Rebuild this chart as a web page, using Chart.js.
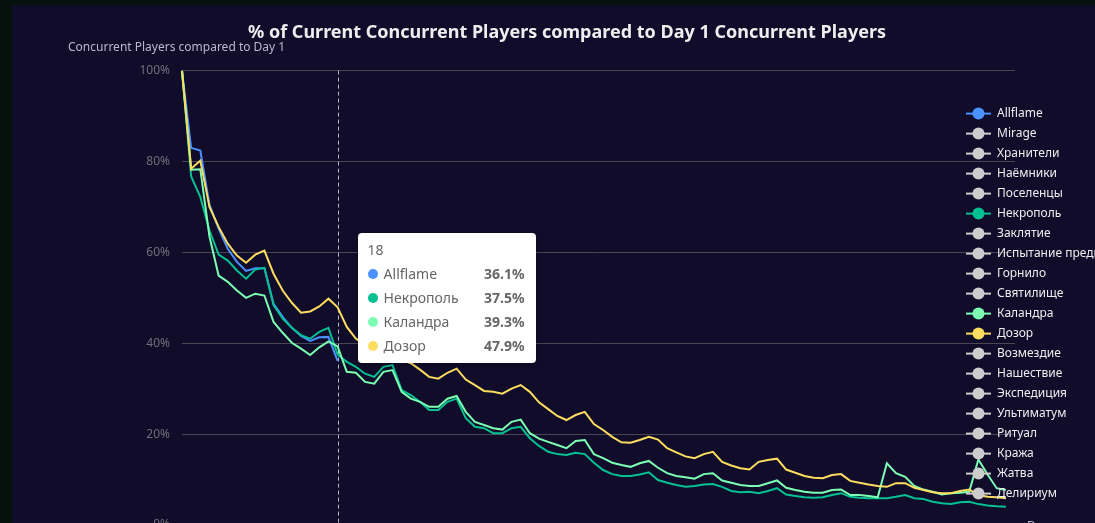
<!DOCTYPE html>
<html>
<head>
<meta charset="utf-8">
<script src="https://cdn.jsdelivr.net/npm/chart.js@4.4.1/dist/chart.umd.min.js"></script>
<style>
    html, body { margin: 0; width: 1095px; height: 523px; overflow: hidden; background: #06100c; }
    #panel { position: absolute; left: 12px; top: 5px; width: 1110px; height: 560px; background: #100c2a; }
    #tip {
        position: absolute; opacity: 0; pointer-events: none; box-sizing: border-box;
        width: 178px; background: #fff; border-radius: 4px; padding: 10px 11px 5px 10px;
        box-shadow: 1px 2px 10px rgba(0,0,0,0.2);
        font: 14px "Noto Sans", sans-serif; color: #666;
    }
    #tip .t { line-height: 14px; height: 14px; margin-bottom: 5px; }
    #tip .r { height: 24px; line-height: 24px; display: flex; align-items: center; }
    #tip .m { width: 10px; height: 10px; border-radius: 5px; margin-right: 6px; }
    #tip .n { flex: 1; }
    #tip .v { font-weight: bold; }
</style>
</head>
<body>
<div id="panel">
    <canvas id="chart" width="1110" height="560"></canvas>
    <div id="tip"></div>
</div>
<script>
// Days on the x axis
const days = [1, 2, 3, 4, 5, 6, 7, 8, 9, 10, 11, 12, 13, 14, 15, 16, 17, 18, 19, 20,
    21, 22, 23, 24, 25, 26, 27, 28, 29, 30, 31, 32, 33, 34, 35, 36, 37, 38, 39, 40,
    41, 42, 43, 44, 45, 46, 47, 48, 49, 50, 51, 52, 53, 54, 55, 56, 57, 58, 59, 60,
    61, 62, 63, 64, 65, 66, 67, 68, 69, 70, 71, 72, 73, 74, 75, 76, 77, 78, 79, 80,
    81, 82, 83, 84, 85, 86, 87, 88, 89, 90, 91, 92];

const yTicks = [0, 20, 40, 60, 80, 100];

// Series names in legend order
const leagues = ['Allflame', 'Mirage', 'Хранители', 'Наёмники', 'Поселенцы', 'Некрополь',
    'Заклятие', 'Испытание предков', 'Горнило', 'Святилище', 'Каландра', 'Дозор',
    'Возмездие', 'Нашествие', 'Экспедиция', 'Ультиматум', 'Ритуал', 'Кража', 'Жатва', 'Делириум'];

// % of day 1 concurrent players
const allflame = [100, 83.0, 82.4, 70.5, 65.2, 60.8, 57.9, 55.9, 56.5, 56.5,
    48.7, 45.8, 43.4, 41.6, 40.5, 41.3, 41.4, 36.1];

const nekropol = [100, 76.7, 72.2, 64.8, 59.5, 58.2, 56.0, 54.2, 56.2, 56.6,
    48.4, 45.4, 43.4, 41.8, 41.0, 42.5, 43.4, 37.5, 35.9, 34.8,
    33.3, 32.6, 34.8, 35.2, 29.7, 28.6, 27.1, 25.3, 25.3, 27.1,
    27.8, 23.5, 21.6, 21.3, 20.2, 20.2, 21.3, 21.6, 19.1, 17.4,
    16.1, 15.6, 15.4, 15.9, 15.6, 13.7, 12.1, 11.2, 10.8, 10.8,
    11.1, 11.6, 9.9, 9.3, 8.8, 8.4, 8.6, 8.9, 9.0, 8.4,
    7.5, 7.2, 7.3, 7.0, 7.5, 8.1, 6.7, 6.4, 6.1, 6.0,
    6.1, 6.6, 7.0, 6.2, 6.0, 5.9, 5.9, 5.9, 6.2, 6.6,
    5.9, 5.7, 5.1, 4.8, 4.6, 5.0, 5.1, 4.6, 4.3, 4.1, 4.0];

const kalandra = [100, 78.2, 78.3, 63.5, 54.9, 53.5, 51.6, 50.0, 50.9, 50.5,
    44.7, 42.3, 40.1, 38.8, 37.4, 39.1, 40.4, 39.3, 33.7, 33.5,
    31.5, 31.1, 33.7, 34.1, 29.3, 27.8, 27.1, 26.0, 26.0, 27.8,
    28.4, 24.9, 22.7, 22.0, 21.3, 21.0, 22.7, 23.2, 20.2, 19.0,
    18.3, 17.6, 16.9, 18.5, 18.7, 15.6, 14.7, 13.7, 13.2, 12.8,
    13.6, 14.1, 12.6, 11.4, 10.8, 10.5, 10.2, 11.2, 11.4, 9.8,
    9.3, 8.8, 8.6, 8.6, 9.2, 9.8, 8.2, 7.7, 7.3, 7.1,
    7.1, 7.7, 7.8, 6.6, 6.6, 6.4, 6.1, 13.6, 11.4, 10.6,
    8.6, 7.8, 7.3, 6.7, 7.0, 7.1, 7.3, 14.4, 11.1, 8.1, 7.7];

const dozor = [100, 78.4, 80.2, 70.0, 65.6, 61.9, 59.3, 57.7, 59.5, 60.4,
    55.3, 51.6, 48.9, 46.7, 47.0, 48.1, 49.8, 47.9, 43.6, 41.0,
    39.6, 38.9, 38.3, 37.2, 36.4, 35.6, 34.2, 32.6, 32.2, 33.5,
    34.4, 32.0, 30.8, 29.5, 29.3, 28.9, 30.0, 30.8, 29.3, 27.0,
    25.5, 24.0, 23.1, 24.2, 24.9, 22.2, 20.9, 19.4, 18.2, 18.1,
    18.7, 19.4, 18.8, 16.9, 16.0, 15.1, 14.7, 15.6, 16.1, 13.9,
    13.1, 12.5, 12.2, 13.9, 14.3, 14.6, 12.2, 11.5, 10.8, 10.4,
    10.3, 11.0, 11.2, 9.7, 9.3, 8.9, 8.6, 8.4, 9.2, 9.2,
    8.2, 7.7, 7.2, 7.0, 7.0, 7.5, 7.8, 6.6, 6.2, 6.1, 5.9];

// Only these series are switched on, the rest show grey in the legend
const shown = {
    'Allflame': { data: allflame, color: '#4992ff' },
    'Некрополь': { data: nekropol, color: '#05c091' },
    'Каландра': { data: kalandra, color: '#7cffb2' },
    'Дозор': { data: dozor, color: '#fddd60' }
};
const inactiveColor = '#cccccc';
const hoverDay = 18;

Chart.defaults.font.family = '"Noto Sans", sans-serif';

const datasets = leagues.map((name, i) => {
    const s = shown[name];
    return {
        label: name,
        data: s ? s.data : [],
        borderColor: s ? s.color : inactiveColor,
        backgroundColor: s ? s.color : inactiveColor,
        borderWidth: 2,
        pointRadius: 0,
        pointHoverRadius: 0,
        tension: 0,
        order: leagues.length - i
    };
});

// y axis name, x axis name, legend and the hover guide line
const decorPlugin = {
    id: 'decor',
    beforeDatasetsDraw(chart) {
        const ctx = chart.ctx;
        const area = chart.chartArea;
        const active = chart.tooltip.getActiveElements();
        if (active.length) {
            const x = active[0].element.x;
            ctx.save();
            ctx.strokeStyle = '#b8b8c4';
            ctx.lineWidth = 1;
            ctx.setLineDash([4, 3]);
            ctx.beginPath();
            ctx.moveTo(Math.round(x) + 0.5, area.top);
            ctx.lineTo(Math.round(x) + 0.5, area.bottom);
            ctx.stroke();
            ctx.restore();
        }
    },
    afterDraw(chart) {
        const ctx = chart.ctx;
        const area = chart.chartArea;
        ctx.save();
        ctx.fillStyle = '#b9b8ce';
        ctx.font = '12px "Noto Sans", sans-serif';
        ctx.textBaseline = 'middle';
        ctx.textAlign = 'left';
        ctx.fillText('Concurrent Players compared to Day 1', area.left - 114, area.top - 23);
        ctx.fillText('Day', area.right + 12, area.bottom + 2);

        // legend on the right, drawn over the plot
        chart.data.datasets.forEach((ds, i) => {
            const y = area.top + 43 + i * 20;
            const lx = area.right - 49;
            ctx.strokeStyle = ds.borderColor;
            ctx.fillStyle = ds.borderColor;
            ctx.lineWidth = 2;
            ctx.beginPath();
            ctx.moveTo(lx, y);
            ctx.lineTo(lx + 25, y);
            ctx.stroke();
            ctx.beginPath();
            ctx.arc(lx + 12.5, y, 6, 0, Math.PI * 2);
            ctx.fill();
            ctx.fillStyle = '#eeeeee';
            ctx.fillText(ds.label, lx + 31, y);
        });
        ctx.restore();
    }
};

function externalTip(context) {
    const tip = document.getElementById('tip');
    const t = context.tooltip;
    if (t.opacity === 0) {
        tip.style.opacity = 0;
        return;
    }
    const points = t.dataPoints.slice().sort((a, b) => a.datasetIndex - b.datasetIndex);
    let html = '<div class="t">' + points[0].label + '</div>';
    points.forEach(p => {
        html += '<div class="r"><span class="m" style="background:' + p.dataset.borderColor + '"></span>' +
            '<span class="n">' + p.dataset.label + '</span>' +
            '<span class="v">' + p.raw.toFixed(1) + '%</span></div>';
    });
    tip.innerHTML = html;
    tip.style.opacity = 1;
    tip.style.left = (t.caretX + 20) + 'px';
    tip.style.top = (context.chart.chartArea.top + 162) + 'px';
}

const chart = new Chart(document.getElementById('chart'), {
    type: 'line',
    data: { labels: days, datasets: datasets },
    options: {
        responsive: false,
        animation: false,
        layout: { padding: 0 },
        interaction: { mode: 'index', intersect: false },
        plugins: {
            legend: { display: false },
            title: {
                display: true,
                text: '% of Current Concurrent Players compared to Day 1 Concurrent Players',
                color: '#eeeeee',
                font: { size: 18, weight: 'bold' },
                padding: { top: 17, bottom: 27 }
            },
            tooltip: { enabled: false, external: externalTip }
        },
        scales: {
            x: {
                type: 'category',
                grid: { display: false },
                border: { display: false },
                ticks: { display: false },
                afterFit: s => { s.height = 40; }
            },
            y: {
                min: 0,
                max: 100,
                afterFit: s => { s.width = 170; },
                afterBuildTicks: s => { s.ticks = yTicks.map(v => ({ value: v })); },
                grid: { color: '#484753', drawTicks: false },
                border: { display: false },
                ticks: {
                    color: '#6e7079',
                    padding: 12,
                    font: { size: 12 },
                    callback: v => v + '%'
                }
            },
            side: {
                type: 'linear',
                position: 'right',
                grid: { display: false },
                border: { display: false },
                ticks: { display: false },
                afterFit: s => { s.width = 107; }
            }
        }
    },
    plugins: [decorPlugin]
});

// show the hover state for day 18 like the reference
const hoverIndex = days.indexOf(hoverDay);
const activeSets = chart.data.datasets
    .map((ds, i) => ({ datasetIndex: i, index: hoverIndex }))
    .filter(a => chart.data.datasets[a.datasetIndex].data.length > hoverIndex);
chart.tooltip.setActiveElements(activeSets, { x: 0, y: 0 });
chart.update();
</script>
</body>
</html>
